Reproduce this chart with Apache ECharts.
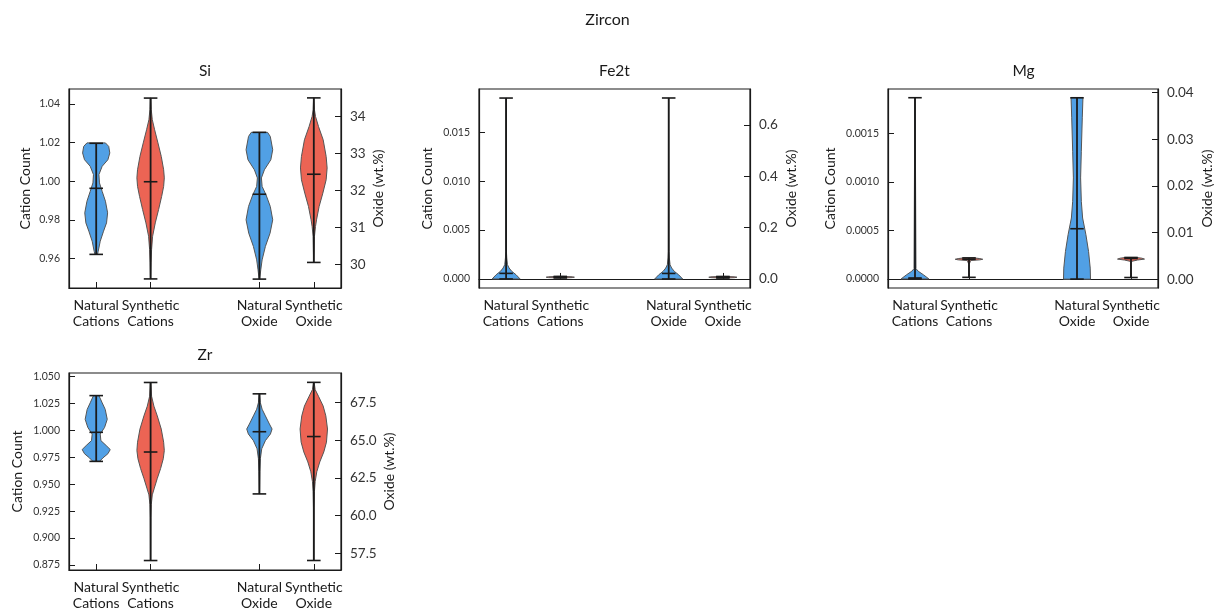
<!DOCTYPE html>
<html>
<head>
<meta charset="utf-8">
<title>Zircon</title>
<script src="https://cdn.jsdelivr.net/npm/echarts@6/dist/echarts.min.js"></script>
<style>
  html, body { margin: 0; padding: 0; background: #fff; }
  #chart { width: 1215px; height: 612px; }
</style>
</head>
<body>
<div id="chart"></div>
<script>
const categories = ['Natural\nCations', 'Synthetic\nCations', 'Natural\nOxide', 'Synthetic\nOxide']
const positions = [1, 2, 4, 5]
const panelNames = ['Si', 'Fe2t', 'Mg', 'Zr']

// violin outlines: [value, half width in x units], top to bottom
// stats: [min, mean, max]
const siNatCat = [[1.0199, 0.17], [1.0181, 0.23], [1.0147, 0.25], [1.0112, 0.215], [1.0078, 0.11], [1.0035, 0.05], [0.9992, 0.06], [0.9948, 0.11], [0.9897, 0.17], [0.9837, 0.21], [0.9785, 0.19], [0.9742, 0.135], [0.9690, 0.074], [0.9638, 0.037], [0.9623, 0.025]]
const siNatCatStats = [0.9622, 0.9964, 1.0197]
const siSynCat = [[1.0431, 0.006], [1.0371, 0.012], [1.0319, 0.031], [1.0267, 0.074], [1.0199, 0.135], [1.0129, 0.196], [1.006, 0.24], [1.0018, 0.252], [0.9974, 0.24], [0.9922, 0.203], [0.9854, 0.147], [0.9785, 0.086], [0.9716, 0.037], [0.9647, 0.018], [0.9578, 0.009], [0.9495, 0.003]]
const siSynCatStats = [0.9495, 0.9998, 1.0431]
const siNatOx = [[33.57, 0.15], [33.46, 0.2], [33.10, 0.245], [32.83, 0.21], [32.56, 0.092], [32.34, 0.037], [32.11, 0.05], [31.88, 0.123], [31.57, 0.2], [31.21, 0.245], [30.85, 0.196], [30.49, 0.11], [30.13, 0.05], [29.86, 0.025], [29.61, 0.006]]
const siNatOxStats = [29.61, 31.90, 33.57]
const siSynOx = [[34.50, 0.003], [34.18, 0.012], [34.0, 0.031], [33.73, 0.086], [33.37, 0.172], [32.92, 0.227], [32.61, 0.245], [32.29, 0.227], [31.93, 0.166], [31.57, 0.098], [31.21, 0.05], [31.03, 0.031], [30.76, 0.012], [30.06, 0.003]]
const siSynOxStats = [30.06, 32.44, 34.50]

const feNatCat = [[0.0185, 0.003], [0.0028, 0.006], [0.00215, 0.012], [0.00146, 0.025], [0.00112, 0.055], [0.00078, 0.104], [0.00043, 0.184], [0.0, 0.258]]
const feNatCatStats = [0.0, 0.00057, 0.0185]
const feSynCat = [[0.00026, 0.05], [0.00022, 0.22], [0.00018, 0.26], [0.00014, 0.22], [0.0001, 0.05]]
const feSynCatStats = [0.0001, 0.00018, 0.00026]
const feNatOx = [[0.705, 0.003], [0.107, 0.006], [0.082, 0.012], [0.0556, 0.025], [0.0427, 0.055], [0.0297, 0.104], [0.0164, 0.184], [0.0, 0.258]]
const feNatOxStats = [0.0, 0.0217, 0.705]
const feSynOx = [[0.0099, 0.05], [0.0084, 0.22], [0.0069, 0.26], [0.0053, 0.22], [0.0038, 0.05]]
const feSynOxStats = [0.0038, 0.0069, 0.0099]

const mgNatCat = [[0.00187, 0.003], [0.000106, 0.018], [0.000079, 0.061], [0.000044, 0.154], [0.0, 0.258]]
const mgNatCatStats = [0.0, 0.00001, 0.00187]
const mgSynCat = [[0.000217, 0.1], [0.00021, 0.2], [0.000203, 0.255], [0.000197, 0.2], [0.00019, 0.03], [0.00015, 0.004], [0.0000165, 0.003]]
const mgSynCatStats = [0.0000165, 0.000203, 0.000217]
const mgNatOx = [[0.03892, 0.11], [0.03462, 0.098], [0.02744, 0.08], [0.02172, 0.067], [0.01669, 0.08], [0.01312, 0.104], [0.00953, 0.165], [0.00594, 0.214], [0.00237, 0.245], [0.0, 0.25]]
const mgNatOxStats = [0.0, 0.01082, 0.03892]
const mgSynOx = [[0.00465, 0.1], [0.0045, 0.2], [0.0043, 0.25], [0.0041, 0.12], [0.0038, 0.005], [0.00035, 0.003]]
const mgSynOxStats = [0.00035, 0.00443, 0.00465]

const zrNatCat = [[1.0323, 0.05], [1.0256, 0.11], [1.0195, 0.166], [1.0103, 0.203], [1.0027, 0.154], [0.9966, 0.074], [0.9905, 0.086], [0.9859, 0.184], [0.9822, 0.258], [0.9783, 0.215], [0.9744, 0.123], [0.9712, 0.061]]
const zrNatCatStats = [0.9712, 0.9982, 1.0323]
const zrSynCat = [[1.0445, 0.006], [1.0317, 0.018], [1.0225, 0.061], [1.0134, 0.123], [1.0012, 0.196], [0.989, 0.24], [0.9813, 0.252], [0.9737, 0.233], [0.9646, 0.184], [0.9554, 0.123], [0.9463, 0.068], [0.9401, 0.031], [0.931, 0.012], [0.9188, 0.006], [0.8791, 0.003]]
const zrSynCatStats = [0.8791, 0.9799, 1.0445]
const zrNatOx = [[68.07, 0.006], [67.48, 0.018], [67.05, 0.05], [66.61, 0.11], [66.07, 0.184], [65.74, 0.233], [65.41, 0.203], [64.97, 0.11], [64.43, 0.043], [63.78, 0.018], [62.91, 0.009], [61.44, 0.003]]
const zrNatOxStats = [61.44, 65.56, 68.07]
const zrSynOx = [[68.83, 0.006], [68.35, 0.025], [67.91, 0.086], [67.26, 0.172], [66.61, 0.221], [65.74, 0.252], [64.87, 0.233], [64.22, 0.184], [63.56, 0.11], [62.91, 0.055], [62.26, 0.025], [61.60, 0.012], [60.51, 0.006], [57.03, 0.003]]
const zrSynOxStats = [57.03, 65.24, 68.83]

// tick labels
const siCationTicks = [0.96, 0.98, 1.00, 1.02, 1.04]
const siOxideTicks = [30, 31, 32, 33, 34]
const feCationTicks = [0, 0.005, 0.010, 0.015]
const feOxideTicks = [0, 0.2, 0.4, 0.6]
const mgCationTicks = [0, 0.0005, 0.0010, 0.0015]
const mgOxideTicks = [0, 0.01, 0.02, 0.03, 0.04]
const zrCationTicks = [0.875, 0.900, 0.925, 0.950, 0.975, 1.000, 1.025, 1.050]
const zrOxideTicks = [57.5, 60.0, 62.5, 65.0, 67.5]

const blue = '#51A0E5'
const red = '#EC6454'
const ink = '#1a1a1a'
const font = 'Lato'
const capHalf = 0.125

// layout of each panel (px) and axis ranges
const panels = [
  {
    name: 'Si', left: 69, top: 89, width: 272, height: 199,
    cat: { range: [0.9448, 1.0478], ticks: siCationTicks, dec: 2, gap: 37 },
    ox: { range: [29.37, 34.74], ticks: siOxideTicks, dec: 0, gap: 30 },
    violins: [[siNatCat, siNatCatStats], [siSynCat, siSynCatStats], [siNatOx, siNatOxStats], [siSynOx, siSynOxStats]]
  },
  {
    name: 'Fe2t', left: 479, top: 89, width: 271, height: 199,
    cat: { range: [-0.000925, 0.019425], ticks: feCationTicks, dec: 3, gap: 45 },
    ox: { range: [-0.035, 0.74], ticks: feOxideTicks, dec: 1, gap: 34 },
    violins: [[feNatCat, feNatCatStats], [feSynCat, feSynCatStats], [feNatOx, feNatOxStats], [feSynOx, feSynOxStats]]
  },
  {
    name: 'Mg', left: 888, top: 89, width: 271, height: 199,
    cat: { range: [-0.0000935, 0.00196], ticks: mgCationTicks, dec: 4, gap: 51 },
    ox: { range: [-0.0019, 0.0408], ticks: mgOxideTicks, dec: 2, gap: 42 },
    violins: [[mgNatCat, mgNatCatStats], [mgSynCat, mgSynCatStats], [mgNatOx, mgNatOxStats], [mgSynOx, mgSynOxStats]]
  },
  {
    name: 'Zr', left: 69, top: 373, width: 272, height: 200,
    cat: { range: [0.8703, 1.0533], ticks: zrCationTicks, dec: 3, gap: 45 },
    ox: { range: [56.4, 69.45], ticks: zrOxideTicks, dec: 1, gap: 41 },
    violins: [[zrNatCat, zrNatCatStats], [zrSynCat, zrSynCatStats], [zrNatOx, zrNatOxStats], [zrSynOx, zrSynOxStats]]
  }
]

function yAxisFor(i, side, cfg) {
  const left = side === 'left'
  return {
    type: 'value',
    gridIndex: i,
    position: side,
    min: cfg.range[0],
    max: cfg.range[1],
    name: left ? 'Cation Count' : 'Oxide (wt.%)',
    nameLocation: 'middle',
    nameGap: cfg.gap,
    nameRotate: 90,
    nameTextStyle: { fontFamily: font, fontSize: 14, color: ink },
    axisLine: { show: true, lineStyle: { color: ink, width: 1.2 } },
    axisTick: { show: true, inside: true, length: 6, customValues: cfg.ticks, lineStyle: { color: ink, width: 1 } },
    axisLabel: {
      customValues: cfg.ticks,
      formatter: (v) => Number(v).toFixed(cfg.dec),
      fontFamily: font,
      fontSize: left ? 10.5 : 13.5,
      color: '#333',
      margin: 9
    },
    splitLine: { show: false }
  }
}

function violinSeries(gridIdx, yIdx, shape, stats, pos, color) {
  return {
    type: 'custom',
    xAxisIndex: gridIdx,
    yAxisIndex: yIdx,
    silent: true,
    clip: false,
    data: [[pos, stats[0], stats[1], stats[2]]],
    renderItem(params, api) {
      const x = api.value(0)
      const lo = api.value(1)
      const mid = api.value(2)
      const hi = api.value(3)
      const rightSide = shape.map(([v, w]) => api.coord([x + w, v]))
      const leftSide = shape.slice().reverse().map(([v, w]) => api.coord([x - w, v]))
      const seg = (a, b, w) => ({
        type: 'line',
        shape: { x1: a[0], y1: a[1], x2: b[0], y2: b[1] },
        style: { stroke: ink, lineWidth: w }
      })
      const cap = (v) => seg(api.coord([x - capHalf, v]), api.coord([x + capHalf, v]), 1.6)
      return {
        type: 'group',
        children: [
          { type: 'polygon', shape: { points: rightSide.concat(leftSide) }, style: { fill: color, stroke: '#555', lineWidth: 1 } },
          seg(api.coord([x, lo]), api.coord([x, hi]), 1.8),
          cap(lo), cap(mid), cap(hi)
        ]
      }
    }
  }
}

const grids = []
const xAxes = []
const yAxes = []
const series = []
const texts = [{
  type: 'text', x: 607.5, y: 20,
  style: { text: 'Zircon', fontFamily: font, fontSize: 16, fill: ink, align: 'center', verticalAlign: 'middle' }
}]

panels.forEach((p, i) => {
  grids.push({
    left: p.left, top: p.top, width: p.width, height: p.height,
    show: true, borderColor: ink, borderWidth: 1.2, backgroundColor: 'transparent'
  })
  xAxes.push({
    type: 'value',
    gridIndex: i,
    min: 0.5,
    max: 5.5,
    axisLine: { show: true, lineStyle: { color: ink, width: 1.2 } },
    axisTick: { show: true, inside: true, length: 6, customValues: positions, lineStyle: { color: ink, width: 1 } },
    axisLabel: {
      customValues: positions,
      formatter: (v) => categories[positions.indexOf(v)],
      fontFamily: font,
      fontSize: 14,
      lineHeight: 16.5,
      color: ink,
      margin: 9
    },
    splitLine: { show: false }
  })
  yAxes.push(yAxisFor(i, 'left', p.cat))
  yAxes.push(yAxisFor(i, 'right', p.ox))
  p.violins.forEach(([shape, stats], k) => {
    const yIdx = k < 2 ? 2 * i : 2 * i + 1
    const color = k % 2 === 0 ? blue : red
    series.push(violinSeries(i, yIdx, shape, stats, positions[k], color))
  })
  texts.push({
    type: 'text', x: p.left + p.width / 2, y: p.top - 18,
    style: { text: p.name, fontFamily: font, fontSize: 15.5, fill: ink, align: 'center', verticalAlign: 'middle' }
  })
})

const chart = echarts.init(document.getElementById('chart'))
chart.setOption({
  backgroundColor: '#fff',
  animation: false,
  grid: grids,
  xAxis: xAxes,
  yAxis: yAxes,
  series: series,
  graphic: texts
})
</script>
</body>
</html>
